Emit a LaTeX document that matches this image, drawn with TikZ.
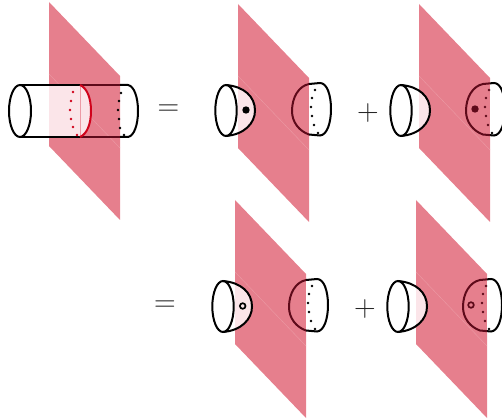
\documentclass[tikz,border=0pt]{standalone}
\definecolor{planecol}{HTML}{E67F8D}
\definecolor{foldcol}{HTML}{EC9AA5}
\definecolor{palepink}{HTML}{FBE5E9}
\definecolor{redarc}{HTML}{D0021B}
\definecolor{maroon}{HTML}{5E0A1A}
\newcommand{\myplane}[2]{%
  \begin{scope}[shift={(#1,#2)}]
    \fill[planecol] (0,0) -- (71,74) -- (71,218) -- (0,144) -- cycle;
    \draw[foldcol,line width=0.4pt] (0,72) -- (71,146);
  \end{scope}}
% #1,#2 centre of the cap; #3 distance from that centre to the plane's edge
\newcommand{\myleft}[3]{%
  \begin{scope}[shift={(#1,#2)}]
    \begin{scope}
      \clip (#3,-30) rectangle (40,30);
      \fill[palepink] (0,-25.5) .. controls (18,-24) and (29,-14) .. (29,0) .. controls (29,13) and (18,24) .. (0,25.5) -- cycle;
    \end{scope}
    \draw[outline,fill=white] (0,0) ellipse[x radius=10.7,y radius=25.5];
    \draw[outline] (0,-25.5) .. controls (18,-24) and (29,-14) .. (29,0) .. controls (29,13) and (18,24) .. (0,25.5);
  \end{scope}}
% #1,#2 origin of the piece; #3 distance from that origin to the plane's edge
\newcommand{\myright}[3]{%
  \begin{scope}[shift={(#1,#2)}]
    \begin{scope}
      \clip (#3,-40) rectangle (60,40);
      \fill[white] \rightpath;
      \draw[outline] \rightpath;
      \foreach \p in {(6,-20),(3,-12),(2,-3),(3,6),(5,15),(9,23)} \fill[black] \p circle[radius=1.4];
    \end{scope}
    \begin{scope}
      \clip (-40,-40) rectangle (#3,40);
      \draw[outline,maroon] \rightpath;
      \foreach \p in {(6,-20),(3,-12),(2,-3),(3,6),(5,15),(9,23)} \fill[maroon] \p circle[radius=1.4];
    \end{scope}
  \end{scope}}
\newcommand{\rightpath}{(0,-26) .. controls (-10,-24) and (-17,-13) .. (-17,1) .. controls (-17,12) and (-10,21) .. (0,24.5) -- (11,25.5) .. controls (18,25) and (22,13) .. (22,-1) .. controls (22,-15) and (18,-27) .. (11,-27) -- cycle}
\tikzset{
  x=1pt,y=-1pt,
  outline/.style={line width=2pt,black},
  eqsign/.style={inner sep=0pt,font=\fontsize{30}{30}\selectfont,text=black!85},
}
\begin{document}
\begin{tikzpicture}
\useasboundingbox (0,0) rectangle (502,419);
\begin{scope}
\clip (0,0) rectangle (502,419);
% top-left cylinder
\myplane{49}{2}
\fill[palepink] (49,85) -- (80,85) .. controls (87,88) and (91,98) .. (91,111) .. controls (91,124) and (87,134) .. (80,137) -- (49,137) -- cycle;
\draw[foldcol,line width=0.4pt] (80,85) -- (80,137);
\draw[outline] (20,85) -- (36,85);
\draw[outline] (20,137) -- (36,137);
\draw[black,line width=1.3pt] (36,85) -- (80,85);
\draw[black,line width=1.3pt] (36,137) -- (80,137);
\draw[maroon,line width=1.8pt] (80,85) -- (120,85);
\draw[maroon,line width=1.8pt] (80,137) -- (120,137);
\draw[outline] (120,85) -- (128,85) .. controls (134,86) and (138,97) .. (138,111) .. controls (138,125) and (134,136) .. (128,137) -- (120,137);
\draw[outline] (20,111) ellipse[x radius=11,y radius=26];
\draw[redarc,line width=2pt] (80,85) .. controls (87,88) and (91,98) .. (91,111) .. controls (91,124) and (87,134) .. (80,137);
\foreach \p in {(73,92),(71,101),(70,110),(71,119),(73,127),(77,135)} \fill[redarc] \p circle[radius=1.4];
\foreach \p in {(121,93),(119,101),(118,110),(119,119),(120,128),(124,135)} \fill[black] \p circle[radius=1.4];
\node[eqsign] (eqa) at (168.5,110) {=};
% first row, first term
\myplane{238}{4}
\myleft{226}{110.5}{12}
\myright{309}{110}{0}
\fill[black] (246,110) circle[radius=3.7];
\node[eqsign] (plusa) at (368,113) {+};
% first row, second term
\myplane{419}{4}
\myleft{401}{110.5}{18}
\myright{483}{110}{7}
\fill[maroon] (475,109) circle[radius=3.7];
% second row
\node[eqsign] (eqb) at (165,306) {=};
\myplane{235}{200}
\myleft{223}{306.5}{12}
\myright{306}{306}{0}
\draw[black,line width=1.7pt] (242.7,306) circle[radius=2.8];
\node[eqsign] (plusb) at (365,309) {+};
\myplane{416}{200}
\myleft{398}{306.5}{18}
\myright{480}{306}{7}
\draw[maroon,line width=1.7pt] (471,305) circle[radius=2.8];
\end{scope}
\end{tikzpicture}
\end{document}
